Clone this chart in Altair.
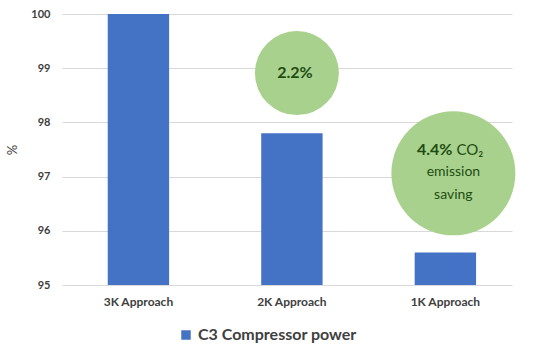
import altair as alt
import pandas as pd

categories = ["3K Approach", "2K Approach", "1K Approach"]
values = [100.0, 97.8, 95.6]
series = ["C3 Compressor power"] * 3

small_cat = ["2K Approach"]
small_y = [98.91]
big_cat = ["1K Approach"]
big_y = [97.06]

pct_small = ["2.2%"]
pct_big = ["4.4%"]
co2_text = ["CO₂"]
line_y = [97.49]
plain_y = [97.08, 96.66]
plain_text = ["emission", "saving"]

FONT = "Lato"
TXT = "#1E4D12"
GREEN = "#A9D18E"

bars_df = pd.DataFrame({"cat": categories, "val": values, "series": series})

xscale = alt.Scale(domain=categories, paddingInner=0.6, paddingOuter=0.266, align=0.56)
yscale = alt.Scale(domain=[95, 100], nice=False, zero=False)

X = alt.X("cat:N", scale=xscale, sort=categories)

bars = alt.Chart(bars_df).mark_bar(clip=True, color="#4472C4").encode(
    x=alt.X("cat:N", scale=xscale, sort=categories, title=None,
            axis=alt.Axis(labelAngle=0, domain=False, ticks=False, labelPadding=11,
                          labelFontSize=12, labelColor="#404040", labelFont=FONT,
                          labelFontWeight="bold")),
    y=alt.Y("val:Q", scale=yscale, title="%",
            axis=alt.Axis(values=[95, 96, 97, 98, 99, 100], domain=False, ticks=False,
                          gridColor="#D9D9D9", labelPadding=12, labelFontSize=11,
                          labelColor="#404040", labelFont=FONT, labelFontWeight="bold",
                          titleFont=FONT, titleFontSize=13, titleFontWeight="normal",
                          titleColor="#404040", titlePadding=11)),
    y2=alt.datum(95),
    color=alt.Color("series:N", scale=alt.Scale(range=["#4472C4"]),
                    legend=alt.Legend(title=None, orient="none", legendX=116, legendY=313,
                                      symbolType="square", symbolSize=90,
                                      labelFontSize=16, labelFont=FONT,
                                      labelFontWeight="bold", labelColor="#404040")),
)

small_bubble = alt.Chart(pd.DataFrame({"cat": small_cat, "y": small_y})).mark_point(
    filled=True, shape="circle", opacity=1, color=GREEN, size=7056).encode(
    x=X, y=alt.Y("y:Q", scale=yscale), xOffset=alt.value(35.7))

big_bubble = alt.Chart(pd.DataFrame({"cat": big_cat, "y": big_y})).mark_point(
    filled=True, shape="circle", opacity=1, color=GREEN, size=15376).encode(
    x=X, y=alt.Y("y:Q", scale=yscale), xOffset=alt.value(38.7))

small_label = alt.Chart(pd.DataFrame({"cat": small_cat, "y": small_y, "t": pct_small})).mark_text(
    font=FONT, fontSize=16, fontWeight="bold", color=TXT, dx=3).encode(
    x=X, y=alt.Y("y:Q", scale=yscale), text="t:N")

big_pct = alt.Chart(pd.DataFrame({"cat": big_cat, "y": line_y, "t": pct_big})).mark_text(
    font=FONT, fontSize=16, fontWeight="bold", color=TXT, align="right", dx=7).encode(
    x=X, y=alt.Y("y:Q", scale=yscale), text="t:N")

co2 = alt.Chart(pd.DataFrame({"cat": big_cat, "y": line_y, "t": co2_text})).mark_text(
    font=FONT, fontSize=15, fontWeight="normal", color=TXT, align="left", dx=11).encode(
    x=X, y=alt.Y("y:Q", scale=yscale), text="t:N")

plain = alt.Chart(pd.DataFrame({"cat": ["1K Approach"] * 2, "y": plain_y, "t": plain_text})).mark_text(
    font=FONT, fontSize=14, fontWeight="normal", color=TXT, dx=8).encode(
    x=X, y=alt.Y("y:Q", scale=yscale), text="t:N")

chart = alt.layer(bars, small_bubble, big_bubble, small_label, big_pct, co2, plain).properties(
    width=450, height=271,
    background="white",
    autosize=alt.AutoSizeParams(type="none"),
    padding={"left": 62, "top": 14, "right": 22, "bottom": 68},
).configure_view(stroke=None)

chart.save("out.html", embed_options={"renderer": "svg", "actions": False})
